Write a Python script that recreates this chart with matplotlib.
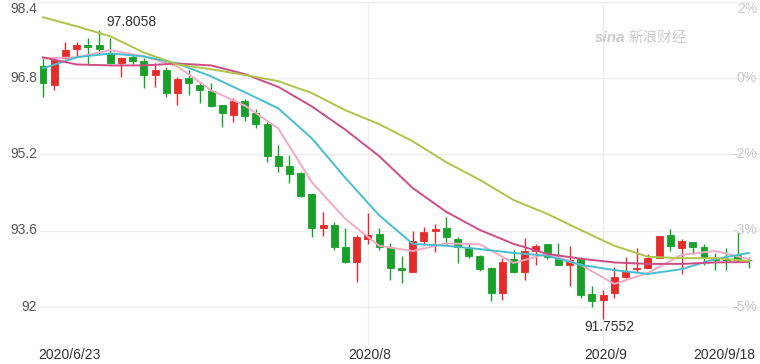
import matplotlib
matplotlib.use("Agg")
import matplotlib.pyplot as plt
import numpy as np

plt.rcParams['font.family'] = ['Liberation Sans', 'Noto Sans CJK SC', 'DejaVu Sans']

# daily OHLC, 2020/6/23 .. 2020/9/18 (64 sessions)
opens  = [97.04, 96.64, 97.21, 97.40, 97.48, 97.48, 97.33, 97.12, 97.23, 97.15,
          96.86, 96.96, 96.48, 96.79, 96.64, 96.52, 96.23, 96.02, 96.31, 96.06,
          95.83, 95.16, 94.95, 94.80, 94.36, 93.65, 93.72, 93.26, 92.94, 93.42,
          93.53, 93.26, 92.82, 92.73, 93.38, 93.59, 93.65, 93.42, 93.23, 93.07,
          92.82, 92.29, 93.00, 92.73, 93.17, 93.32, 93.00, 92.88, 93.00, 92.27,
          92.15, 92.29, 92.63, 92.79, 92.82, 93.02, 93.51, 93.23, 93.36, 93.26,
          93.02, 93.00, 93.09, 92.99]
closes = [96.69, 97.17, 97.38, 97.48, 97.44, 97.40, 97.12, 97.21, 97.15, 96.86,
          96.96, 96.48, 96.77, 96.69, 96.54, 96.20, 96.06, 96.31, 96.00, 95.83,
          95.16, 94.95, 94.78, 94.32, 93.65, 93.72, 93.26, 92.94, 93.46, 93.51,
          93.26, 92.82, 92.77, 93.38, 93.57, 93.63, 93.46, 93.26, 93.07, 92.79,
          92.29, 92.94, 92.73, 93.17, 93.28, 93.05, 92.88, 92.98, 92.25, 92.13,
          92.25, 92.63, 92.73, 92.82, 93.02, 93.49, 93.28, 93.38, 93.26, 93.05,
          92.98, 92.98, 92.98, 92.98]
highs  = [97.23, 97.21, 97.56, 97.56, 97.63, 97.8058, 97.63, 97.23, 97.31, 97.21,
          97.12, 97.02, 96.81, 96.96, 96.69, 96.69, 96.23, 96.37, 96.35, 96.14,
          95.87, 95.39, 95.18, 94.82, 94.38, 93.99, 93.78, 93.65, 93.51, 93.97,
          93.65, 93.34, 93.07, 93.59, 93.67, 93.74, 93.88, 93.46, 93.34, 93.09,
          92.84, 93.02, 93.19, 93.44, 93.32, 93.32, 93.34, 93.28, 93.05, 92.44,
          92.36, 92.84, 93.05, 93.23, 93.11, 93.49, 93.63, 93.42, 93.36, 93.32,
          93.13, 93.23, 93.57, 93.05]
lows   = [96.39, 96.54, 97.19, 97.23, 97.10, 97.27, 97.10, 96.81, 97.10, 96.58,
          96.60, 96.39, 96.23, 96.43, 96.27, 96.18, 95.76, 95.87, 95.89, 95.74,
          95.03, 94.82, 94.59, 94.30, 93.46, 93.49, 93.19, 92.92, 92.52, 93.32,
          93.19, 92.57, 92.50, 92.73, 93.30, 93.15, 93.30, 92.92, 93.02, 92.75,
          92.13, 92.15, 92.71, 92.57, 92.88, 93.00, 92.88, 92.44, 92.19, 92.00,
          91.7552, 92.19, 92.61, 92.73, 92.82, 93.02, 93.17, 92.69, 93.11, 92.88,
          92.77, 92.77, 92.94, 92.82]

# moving averages read every third session
ma_idx = list(range(0, 64, 3))
ma5  = [97.21, 97.23, 97.38, 97.25, 97.04, 96.54, 96.22, 95.74, 94.61, 93.84, 93.28,
        93.17, 93.33, 93.31, 92.92, 93.11, 92.88, 92.48, 92.71, 93.09, 93.17, 93.00]
ma10 = [97.00, 97.23, 97.31, 97.25, 97.10, 96.83, 96.50, 96.16, 95.53, 94.70, 93.92,
        93.32, 93.28, 93.21, 93.13, 93.07, 92.88, 92.77, 92.69, 92.79, 93.00, 93.13]
ma20 = [97.23, 97.08, 97.06, 97.06, 97.10, 97.06, 96.88, 96.61, 96.20, 95.71, 95.16,
        94.49, 93.99, 93.61, 93.32, 93.11, 93.01, 92.93, 92.90, 92.90, 92.93, 92.94]
ma60 = [98.07, 97.88, 97.67, 97.33, 97.08, 96.98, 96.86, 96.73, 96.48, 96.12, 95.83,
        95.47, 95.03, 94.66, 94.24, 93.95, 93.61, 93.28, 93.05, 93.02, 93.02, 92.96]

y_ticks = [92, 93.6, 95.2, 96.8, 98.4]
y_labels = ["92", "93.6", "95.2", "96.8", "98.4"]
pct_labels = ["-5%", "-3%", "-2%", "0%", "2%"]
date_pos = [0, 29, 50, 63]
date_labels = ["2020/6/23", "2020/8", "2020/9", "2020/9/18"]

RED, GREEN = "#e62b2b", "#17a129"

fig = plt.figure(figsize=(7.6, 3.64), dpi=100)
ax = fig.add_axes([40/760, 19/364, 720/760, 343.5/364])
ax.set_xlim(-0.27, 64.0)
ax.set_ylim(91.2, 98.4)
for s in ax.spines.values():
    s.set_visible(False)
ax.set_xticks([]); ax.set_yticks([])

for y in y_ticks:
    ax.axhline(y, color="#eeeeee", lw=1, zorder=0)
for x in date_pos[1:3]:
    ax.axvline(x, color="#eeeeee", lw=1, zorder=0)

x = np.arange(len(opens))
o, c, h, l = map(np.array, (opens, closes, highs, lows))
col = np.where(c > o, RED, GREEN)
ax.vlines(x, l, h, colors=col, lw=1, zorder=2)
ax.bar(x, np.abs(c - o), bottom=np.minimum(o, c), width=0.62, color=col,
       edgecolor=col, lw=0.6, zorder=3)

for vals, color in [(ma5, "#f2a9c4"), (ma10, "#45bfcf"), (ma20, "#cf4d86"), (ma60, "#aec449")]:
    ax.plot(ma_idx, vals, color=color, lw=1.4, zorder=4)

ytr = ax.get_yaxis_transform()
for y, lab, pct in zip(y_ticks, y_labels, pct_labels):
    va = "top" if y == y_ticks[-1] else "center"
    dy = -0.02 if y == y_ticks[-1] else 0
    ax.text(-0.004, y + dy, lab, transform=ytr, ha="right", va=va, fontsize=10, color="#555555")
    ax.text(0.996, y + dy, pct, transform=ytr, ha="right", va=va, fontsize=10, color="#c8c8c8")

xtr = ax.get_xaxis_transform()
for pos, lab in zip(date_pos, date_labels):
    ha = "left" if pos == 0 else ("right" if pos == 63 else "center")
    xp = -0.45 if pos == 0 else (63.6 if pos == 63 else pos + 0.2)
    ax.text(xp, -0.03, lab, transform=xtr, ha=ha, va="center", fontsize=10, color="#333333")

hi = int(np.argmax(h)); lo = int(np.argmin(l))
ax.annotate(f"{h[hi]:.4f}", (hi, h[hi]), xytext=(5, 5.5), textcoords="offset points",
            ha="left", va="center", fontsize=10, color="#333333")
ax.annotate(f"{l[lo]:.4f}", (lo, l[lo]), xytext=(-13.5, -6), textcoords="offset points",
            ha="left", va="center", fontsize=10, color="#333333")

ax.text(0.771, 0.894, "sina", transform=ax.transAxes, fontsize=11, fontweight="bold",
        style="italic", color="#cccccc", ha="left", va="center")
ax.text(0.817, 0.894, "新浪财经", transform=ax.transAxes, fontsize=10.5,
        color="#cccccc", ha="left", va="center", family=["Noto Sans CJK SC", "DejaVu Sans"])

fig.savefig("out.png", dpi=100)
